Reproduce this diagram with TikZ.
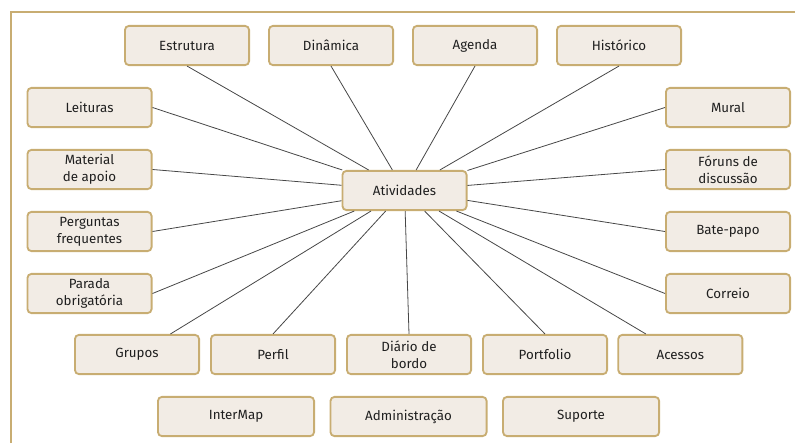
\documentclass[tikz,border=0pt]{standalone}
\usepackage{fontspec}
\setmainfont{Fira Sans}
\usepackage{tikz}
\usetikzlibrary{positioning}
\definecolor{tanline}{HTML}{C8AD72}
\definecolor{tanfill}{HTML}{F2ECE5}

\begin{document}
\begin{tikzpicture}[x=0.75pt, y=-0.75pt]
	\tikzset{item/.style={rectangle, draw=tanline, fill=tanfill, line width=1.4pt, rounded corners=3pt, minimum width=93.1pt, minimum height=29.4pt, inner sep=0pt, align=center, text=black!88, font=\fontsize{10}{12.6}\selectfont}}
	\tikzset{wide/.style={item, minimum width=117.1pt}}
	\tikzset{link/.style={draw=black!72, line width=0.6pt}}
	\tikzset{frame/.style={draw=tanline, line width=1.1pt}}

\useasboundingbox (0,0) rectangle (795,443);
\draw[frame] (11,443) -- (11,12) -- (795,12);

% top row
\node[item] (estrutura) at (187,45.5) {Estrutura};
\node[item, right of=estrutura, node distance=108pt] (dinamica) {Dinâmica};
\node[item, right of=dinamica, node distance=108pt] (agenda) {Agenda};
\node[item, right of=agenda, node distance=108pt] (historico) {Histórico};

% left column
\node[item] (leituras) at (89.5,107.5) {Leituras};
\node[item, below of=leituras, node distance=46.5pt] (material) {Material\\de apoio};
\node[item, below of=material, node distance=46.5pt] (perguntas) {Perguntas\\frequentes};
\node[item, below of=perguntas, node distance=46.5pt] (parada) {Parada\\obrigatória};

% right column
\node[item] (mural) at (728,107.5) {Mural};
\node[item, below of=mural, node distance=46.5pt] (foruns) {Fóruns de\\discussão};
\node[item, below of=foruns, node distance=46.5pt] (batepapo) {Bate-papo};
\node[item, below of=batepapo, node distance=46.5pt] (correio) {Correio};

\node[item] (atividades) at (404.5,190.5) {Atividades};

% lower row
\node[item] (grupos) at (137,354.5) {Grupos};
\node[item, right of=grupos, node distance=102pt] (perfil) {Perfil};
\node[item, right of=perfil, node distance=102pt] (diario) {Diário de\\bordo};
\node[item, right of=diario, node distance=102pt] (portfolio) {Portfolio};
\node[item, right of=portfolio, node distance=101.5pt] (acessos) {Acessos};

\node[wide] (intermap) at (236,416.5) {InterMap};
\node[wide, right of=intermap, node distance=129.4pt] (admin) {Administração};
\node[wide, right of=admin, node distance=129.4pt] (suporte) {Suporte};

\draw[link] (atividades) -- (estrutura.south);
\draw[link] (atividades) -- (dinamica.south);
\draw[link] (atividades) -- (agenda.south);
\draw[link] (atividades) -- (historico.south);
\draw[link] (atividades) -- (leituras.east);
\draw[link] (atividades) -- (material.east);
\draw[link] (atividades) -- (perguntas.east);
\draw[link] (atividades) -- (parada.east);
\draw[link] (atividades) -- (mural.west);
\draw[link] (atividades) -- (foruns.west);
\draw[link] (atividades) -- (batepapo.west);
\draw[link] (atividades) -- (correio.west);
\draw[link] (atividades) -- (grupos);
\draw[link] (atividades) -- (perfil.north);
\draw[link] (atividades) -- (diario.north);
\draw[link] (atividades) -- (portfolio.north);
\draw[link] (atividades) -- (acessos);
\end{tikzpicture}
\end{document}
